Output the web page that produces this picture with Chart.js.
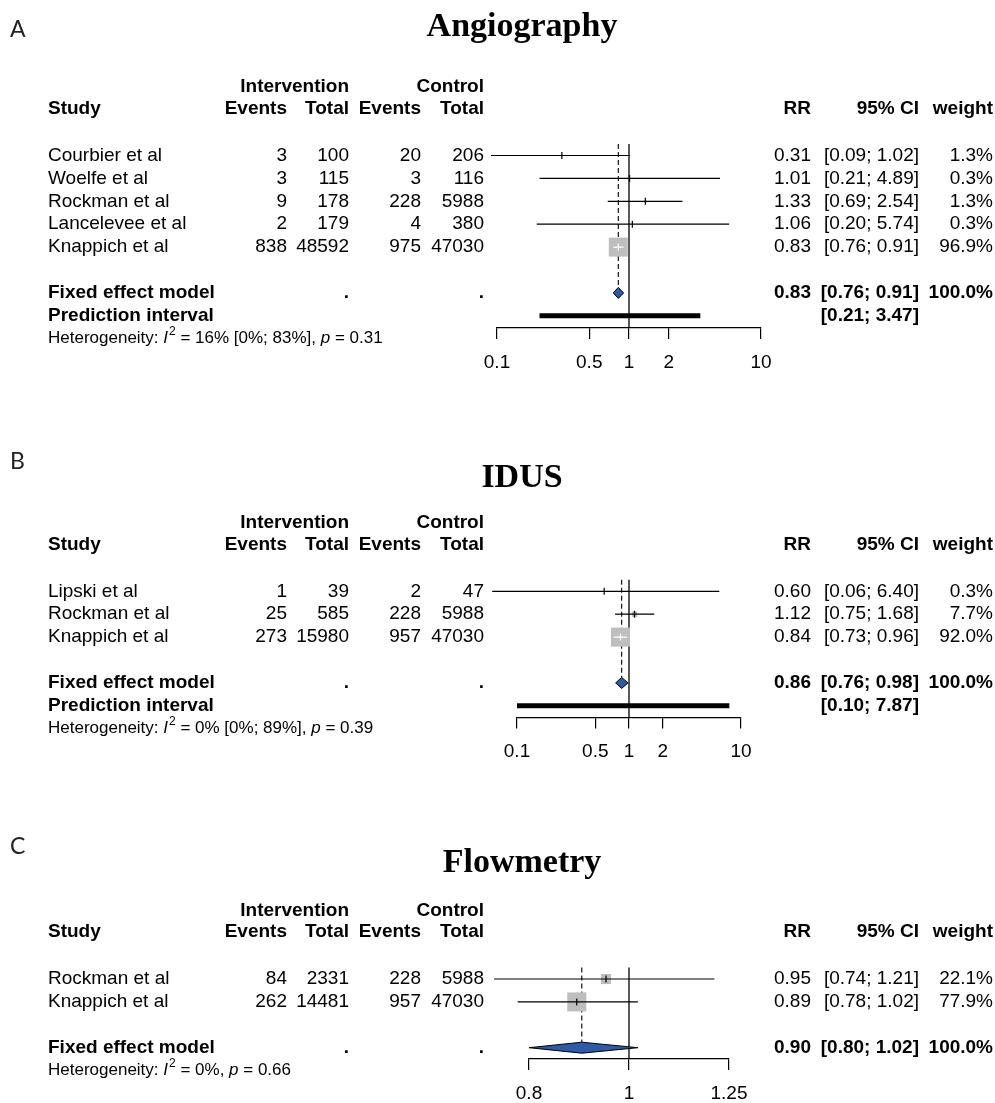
<!DOCTYPE html>
<html>
<head>
<meta charset="utf-8">
<script src="https://cdn.jsdelivr.net/npm/chart.js@4.4.0/dist/chart.umd.min.js"></script>
<style>
  html, body { margin: 0; padding: 0; background: #fff; }
  #wrap { position: relative; width: 995px; height: 1103px; }
  canvas { position: absolute; left: 0; }
</style>
</head>
<body>
<div id="wrap">
  <canvas id="cA" width="995" height="395" style="top:0px"></canvas>
  <canvas id="cB" width="995" height="385" style="top:395px"></canvas>
  <canvas id="cC" width="995" height="323" style="top:780px"></canvas>
</div>
<script>
// ---- A: Angiography
const studiesA = ['Courbier et al', 'Woelfe et al', 'Rockman et al', 'Lancelevee et al', 'Knappich et al'];
const evIntA = [3, 3, 9, 2, 838];
const totIntA = [100, 115, 178, 179, 48592];
const evCtrlA = [20, 3, 228, 4, 975];
const totCtrlA = [206, 116, 5988, 380, 47030];
const rrA = [0.31, 1.01, 1.33, 1.06, 0.83];
const loA = [0.09, 0.21, 0.69, 0.20, 0.76];
const hiA = [1.02, 4.89, 2.54, 5.74, 0.91];
const wA = [1.3, 0.3, 1.3, 0.3, 96.9];
const pooledA = [0.83, 0.76, 0.91];
const predA = [0.21, 3.47];
const hetA = [16, 0, 83, 0.31];
const ticksA = [0.1, 0.5, 1, 2, 10];

// ---- B: IDUS
const studiesB = ['Lipski et al', 'Rockman et al', 'Knappich et al'];
const evIntB = [1, 25, 273];
const totIntB = [39, 585, 15980];
const evCtrlB = [2, 228, 957];
const totCtrlB = [47, 5988, 47030];
const rrB = [0.60, 1.12, 0.84];
const loB = [0.06, 0.75, 0.73];
const hiB = [6.40, 1.68, 0.96];
const wB = [0.3, 7.7, 92.0];
const pooledB = [0.86, 0.76, 0.98];
const predB = [0.10, 7.87];
const hetB = [0, 0, 89, 0.39];
const ticksB = [0.1, 0.5, 1, 2, 10];

// ---- C: Flowmetry
const studiesC = ['Rockman et al', 'Knappich et al'];
const evIntC = [84, 262];
const totIntC = [2331, 14481];
const evCtrlC = [228, 957];
const totCtrlC = [5988, 47030];
const rrC = [0.95, 0.89];
const loC = [0.74, 0.78];
const hiC = [1.21, 1.02];
const wC = [22.1, 77.9];
const pooledC = [0.90, 0.80, 1.02];
const predC = null;
const hetC = [0, null, null, 0.66];
const ticksC = [0.8, 1, 1.25];

const SANS = '"Liberation Sans", Arial, Helvetica, sans-serif';
const SERIF = '"Liberation Serif", "Times New Roman", serif';
const FS = 19;      // table font size
const HS = 17;      // heterogeneity font size
const ROW = 22.9;   // line height
const SQ = 19;      // side of largest square
const DH = 5.5;     // half height of diamond
const COL = { name: 48, ev1: 287, tot1: 349, ev2: 421, tot2: 484, rr: 811, ci: 919, w: 993 };

const ci = (a, b) => '[' + a.toFixed(2) + '; ' + b.toFixed(2) + ']';

function txt(ctx, s, x, y, align, bold) {
  ctx.font = (bold ? 'bold ' : '') + FS + 'px ' + SANS;
  ctx.textAlign = align;
  ctx.fillText(s, x, y);
}

function drawHet(ctx, het, x0, y) {
  const mid = ' = ' + het[0] + '%' + (het[1] === null ? '' : ' [' + het[1] + '%; ' + het[2] + '%]') + ', ';
  const parts = [['Heterogeneity: ', ''], ['I', 'it'], ['2', 'sup'], [mid, ''], ['p', 'it'], [' = ' + het[3].toFixed(2), '']];
  let x = x0;
  ctx.textAlign = 'left';
  parts.forEach(([s, st]) => {
    ctx.font = (st === 'it' ? 'italic ' : '') + (st === 'sup' ? 12 : HS) + 'px ' + SANS;
    ctx.fillText(s, x + (st === 'sup' ? 1 : 0), st === 'sup' ? y - 7 : y);
    x += ctx.measureText(s).width + (st === 'sup' ? 1 : 0);
  });
}

function forestPlugin(d, lay) {
  const n = d.studies.length;
  const wmax = Math.max(...d.w);
  const side = i => SQ * Math.sqrt(d.w[i] / wmax);
  return {
    id: 'forest' + lay.letter,
    beforeDatasetsDraw(chart) {
      const { ctx, chartArea } = chart;
      const { x, y } = chart.scales;
      const top = y.getPixelForValue(-0.5);
      ctx.save();
      ctx.strokeStyle = '#000';
      ctx.lineWidth = 1.3;
      const x1 = x.getPixelForValue(1);
      ctx.beginPath(); ctx.moveTo(x1, top); ctx.lineTo(x1, chartArea.bottom); ctx.stroke();
      const xp = x.getPixelForValue(d.pooled[0]);
      ctx.lineWidth = 1.1;
      ctx.setLineDash([5, 3]);
      ctx.beginPath(); ctx.moveTo(xp, top); ctx.lineTo(xp, y.getPixelForValue(n + 1) - DH); ctx.stroke();
      ctx.restore();
    },
    afterDatasetsDraw(chart) {
      const { ctx } = chart;
      const { x, y } = chart.scales;
      ctx.save();
      ctx.lineWidth = 1.2;
      d.rr.forEach((v, i) => {
        const py = y.getPixelForValue(i);
        const xl = x.getPixelForValue(d.lo[i]);
        const xh = x.getPixelForValue(d.hi[i]);
        const xc = x.getPixelForValue(v);
        const h = side(i) / 2;
        const inside = xl >= xc - h && xh <= xc + h;
        ctx.strokeStyle = inside ? '#fff' : '#000';
        ctx.beginPath();
        ctx.moveTo(xl, py); ctx.lineTo(xh, py);
        ctx.moveTo(xc, py - 3.5); ctx.lineTo(xc, py + 3.5);
        ctx.stroke();
      });
      // pooled diamond
      const fy = y.getPixelForValue(n + 1);
      ctx.beginPath();
      ctx.moveTo(x.getPixelForValue(d.pooled[1]), fy);
      ctx.lineTo(x.getPixelForValue(d.pooled[0]), fy - DH);
      ctx.lineTo(x.getPixelForValue(d.pooled[2]), fy);
      ctx.lineTo(x.getPixelForValue(d.pooled[0]), fy + DH);
      ctx.closePath();
      ctx.fillStyle = '#2c5ba9';
      ctx.fill();
      ctx.strokeStyle = '#000';
      ctx.lineWidth = 1;
      ctx.stroke();
      // prediction interval
      if (d.pred) {
        const py = y.getPixelForValue(n + 2);
        ctx.lineWidth = 5;
        ctx.lineCap = 'butt';
        ctx.beginPath();
        ctx.moveTo(x.getPixelForValue(d.pred[0]), py);
        ctx.lineTo(x.getPixelForValue(d.pred[1]), py);
        ctx.stroke();
      }
      ctx.restore();
    },
    afterDraw(chart) {
      const { ctx } = chart;
      const { y } = chart.scales;
      ctx.save();
      // panel letter and title
      ctx.textBaseline = 'alphabetic';
      ctx.font = '23px Lato, "Open Sans", sans-serif';
      ctx.fillStyle = '#222';
      ctx.textAlign = 'left';
      ctx.fillText(lay.letter, 10, lay.letterY);
      ctx.fillStyle = '#000';
      ctx.font = 'bold 34px ' + SERIF;
      ctx.textAlign = 'center';
      ctx.fillText(d.title, 522, lay.titleY);

      ctx.textBaseline = 'middle';
      // headers
      const h1 = y.getPixelForValue(-3.0), h2 = y.getPixelForValue(-2.05);
      txt(ctx, 'Intervention', COL.tot1, h1, 'right', true);
      txt(ctx, 'Control', COL.tot2, h1, 'right', true);
      txt(ctx, 'Study', COL.name, h2, 'left', true);
      txt(ctx, 'Events', COL.ev1, h2, 'right', true);
      txt(ctx, 'Total', COL.tot1, h2, 'right', true);
      txt(ctx, 'Events', COL.ev2, h2, 'right', true);
      txt(ctx, 'Total', COL.tot2, h2, 'right', true);
      txt(ctx, 'RR', COL.rr, h2, 'right', true);
      txt(ctx, '95% CI', COL.ci, h2, 'right', true);
      txt(ctx, 'weight', COL.w, h2, 'right', true);
      // studies
      d.studies.forEach((s, i) => {
        const py = y.getPixelForValue(i);
        txt(ctx, s, COL.name, py, 'left');
        txt(ctx, String(d.evInt[i]), COL.ev1, py, 'right');
        txt(ctx, String(d.totInt[i]), COL.tot1, py, 'right');
        txt(ctx, String(d.evCtrl[i]), COL.ev2, py, 'right');
        txt(ctx, String(d.totCtrl[i]), COL.tot2, py, 'right');
        txt(ctx, d.rr[i].toFixed(2), COL.rr, py, 'right');
        txt(ctx, ci(d.lo[i], d.hi[i]), COL.ci, py, 'right');
        txt(ctx, d.w[i].toFixed(1) + '%', COL.w, py, 'right');
      });
      // fixed effect
      const fy = y.getPixelForValue(n + 1);
      txt(ctx, 'Fixed effect model', COL.name, fy, 'left', true);
      txt(ctx, '.', COL.tot1, fy, 'right', true);
      txt(ctx, '.', COL.tot2, fy, 'right', true);
      txt(ctx, d.pooled[0].toFixed(2), COL.rr, fy, 'right', true);
      txt(ctx, ci(d.pooled[1], d.pooled[2]), COL.ci, fy, 'right', true);
      txt(ctx, '100.0%', COL.w, fy, 'right', true);
      let hy = n + 2;
      if (d.pred) {
        const py = y.getPixelForValue(n + 2);
        txt(ctx, 'Prediction interval', COL.name, py, 'left', true);
        txt(ctx, ci(d.pred[0], d.pred[1]), COL.ci, py, 'right', true);
        hy = n + 3;
      }
      drawHet(ctx, d.het, COL.name, y.getPixelForValue(hy));
      ctx.restore();
    }
  };
}

function makePanel(d, lay) {
  const canvas = document.getElementById(lay.canvas);
  const W = canvas.width, H = canvas.height, AX = 44;
  const wmax = Math.max(...d.w);
  return new Chart(canvas, {
    type: 'scatter',
    data: {
      datasets: [{
        data: d.rr.map((v, i) => ({ x: v, y: i })),
        pointStyle: 'rect',
        pointRadius: d.w.map(w => SQ * Math.sqrt(w / wmax) / Math.SQRT2),
        backgroundColor: '#bebebe',
        borderWidth: 0,
        clip: false
      }]
    },
    options: {
      responsive: false,
      animation: false,
      events: [],
      layout: { autoPadding: false, padding: { left: lay.left, right: W - lay.right, top: 0, bottom: H - lay.bottom - AX } },
      plugins: { legend: { display: false }, tooltip: { enabled: false }, title: { display: false } },
      scales: {
        x: {
          type: 'logarithmic',
          min: d.ticks[0],
          max: d.ticks[d.ticks.length - 1],
          afterBuildTicks: s => { s.ticks = d.ticks.map(v => ({ value: v })); },
          afterFit: s => { s.height = AX; s.paddingLeft = 0; s.paddingRight = 0; },
          border: { display: true, color: '#000', width: 1.2 },
          grid: { drawOnChartArea: false, drawTicks: true, tickLength: 11, color: '#000', lineWidth: 1.2 },
          ticks: {
            autoSkip: false, maxRotation: 0, minRotation: 0, padding: 12, color: '#000',
            font: { family: SANS, size: FS },
            callback: v => String(v)
          }
        },
        y: {
          display: false,
          reverse: true,
          min: -lay.first / ROW,
          max: (lay.bottom - lay.first) / ROW,
          afterFit: s => { s.width = 0; s.paddingTop = 0; s.paddingBottom = 0; }
        }
      }
    },
    plugins: [forestPlugin(d, lay)]
  });
}

makePanel(
  { title: 'Angiography', studies: studiesA, evInt: evIntA, totInt: totIntA, evCtrl: evCtrlA, totCtrl: totCtrlA,
    rr: rrA, lo: loA, hi: hiA, w: wA, pooled: pooledA, pred: predA, het: hetA, ticks: ticksA },
  { canvas: 'cA', letter: 'A', first: 155.5, bottom: 328, left: 497, right: 761, titleY: 36, letterY: 37 }
);
makePanel(
  { title: 'IDUS', studies: studiesB, evInt: evIntB, totInt: totIntB, evCtrl: evCtrlB, totCtrl: totCtrlB,
    rr: rrB, lo: loB, hi: hiB, w: wB, pooled: pooledB, pred: predB, het: hetB, ticks: ticksB },
  { canvas: 'cB', letter: 'B', first: 196.3, bottom: 322.5, left: 517, right: 741, titleY: 92, letterY: 74 }
);
makePanel(
  { title: 'Flowmetry', studies: studiesC, evInt: evIntC, totInt: totIntC, evCtrl: evCtrlC, totCtrl: totCtrlC,
    rr: rrC, lo: loC, hi: hiC, w: wC, pooled: pooledC, pred: predC, het: hetC, ticks: ticksC },
  { canvas: 'cC', letter: 'C', first: 199, bottom: 279, left: 529, right: 729, titleY: 92, letterY: 74 }
);
</script>
</body>
</html>
